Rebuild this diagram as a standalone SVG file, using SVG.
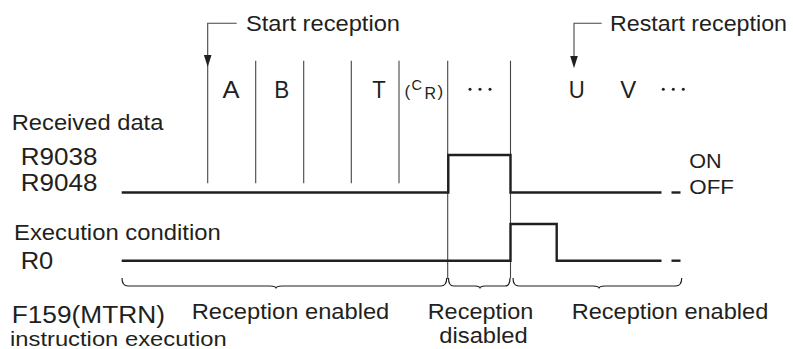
<svg xmlns="http://www.w3.org/2000/svg" width="793" height="349" viewBox="0 0 793 349">
<style>
text{font-family:"Liberation Sans",Arial,sans-serif;fill:#231f20}
.t21{font-size:22px}
.t23{font-size:24px}
.t20{font-size:20.5px}
.thin{stroke:#454545;stroke-width:1.1;fill:none}
.sig{stroke:#231f20;stroke-width:2.4;fill:none}
.brace{stroke:#231f20;stroke-width:1.2;fill:none}
.ah{fill:#231f20}
</style>
<rect width="793" height="349" fill="#fff"/>
<g id="labels">
<text class="t21" x="11.7" y="129.8" textLength="151.7" lengthAdjust="spacingAndGlyphs">Received data</text>
<text class="t23" x="20.7" y="165" textLength="76.7" lengthAdjust="spacingAndGlyphs">R9038</text>
<text class="t23" x="20.7" y="191.3" textLength="76.7" lengthAdjust="spacingAndGlyphs">R9048</text>
<text class="t21" x="14" y="240.3" textLength="206.7" lengthAdjust="spacingAndGlyphs">Execution condition</text>
<text class="t23" x="20.7" y="268.5" textLength="32.6" lengthAdjust="spacingAndGlyphs">R0</text>
<text style="font-size:23px" x="11.7" y="322.5" textLength="153.3" lengthAdjust="spacingAndGlyphs">F159(MTRN)</text>
<text style="font-size:21px" x="10" y="345.5" textLength="216.7" lengthAdjust="spacingAndGlyphs">instruction execution</text>
<text class="t20" x="689.3" y="167.7" textLength="32.4" lengthAdjust="spacingAndGlyphs">ON</text>
<text class="t20" x="689.3" y="193.5" textLength="44.7" lengthAdjust="spacingAndGlyphs">OFF</text>
</g>
<g id="start-reception">
<text class="t21" x="246" y="31.3" textLength="154" lengthAdjust="spacingAndGlyphs">Start reception</text>
</g>
<g id="restart-reception">
<text class="t21" x="610" y="31" textLength="177" lengthAdjust="spacingAndGlyphs">Restart reception</text>
</g>
<g id="data-letters">
<text class="t23" x="231" y="98.3" text-anchor="middle" textLength="17" lengthAdjust="spacingAndGlyphs">A</text>
<text class="t23" x="281.8" y="98.3" text-anchor="middle" textLength="15" lengthAdjust="spacingAndGlyphs">B</text>
<text class="t23" x="379" y="98.3" text-anchor="middle" textLength="13.5" lengthAdjust="spacingAndGlyphs">T</text>
<text style="font-size:17px" x="404.5" y="97">(</text>
<text style="font-size:14.5px" x="411.5" y="90">C</text>
<text style="font-size:16px" x="424.5" y="98.8">R</text>
<text style="font-size:17px" x="437.5" y="97">)</text>
<text class="t23" x="576.7" y="98.3" text-anchor="middle" textLength="16" lengthAdjust="spacingAndGlyphs">U</text>
<text class="t23" x="628.3" y="98.3" text-anchor="middle" textLength="16" lengthAdjust="spacingAndGlyphs">V</text>
<circle cx="470" cy="89.3" r="1.5" class="ah"/>
<circle cx="480" cy="89.3" r="1.5" class="ah"/>
<circle cx="490" cy="89.3" r="1.5" class="ah"/>
<circle cx="663.3" cy="89.3" r="1.5" class="ah"/>
<circle cx="673.3" cy="89.3" r="1.5" class="ah"/>
<circle cx="683.3" cy="89.3" r="1.5" class="ah"/>
</g>
<g id="period-labels">
<text class="t21" x="191.7" y="319" textLength="197.6" lengthAdjust="spacingAndGlyphs">Reception enabled</text>
<text class="t21" x="427.7" y="319" textLength="105.6" lengthAdjust="spacingAndGlyphs">Reception</text>
<text class="t21" x="439.3" y="343.3" textLength="88.4" lengthAdjust="spacingAndGlyphs">disabled</text>
<text class="t21" x="571.7" y="319" textLength="196.6" lengthAdjust="spacingAndGlyphs">Reception enabled</text>
</g>
<g id="connectors">
<path class="thin" d="M236.7,23.3 H207.7 V183.3"/>
<path class="ah" d="M203.9,55 L211.5,55 L207.7,67 Z"/>
<path class="thin" d="M601.7,23.3 H574 V60"/>
<path class="ah" d="M570.2,56 L577.8,56 L574,68.3 Z"/>
<path class="thin" d="M255.7,60.7 V183.3 M303.7,60.7 V183.3 M351.3,60.7 V183.3 M399,60.7 V183.3 M447.7,60.7 V279 M510.5,60.7 V278"/>
</g>
<g id="signal-r9038">
<path class="sig" d="M121.7,192.5 H448.3 V155 H510.5 V192.5 H661.5"/>
<path class="sig" d="M671.5,192.5 H680.5"/>
</g>
<g id="signal-r0">
<path class="sig" d="M121.7,260.7 H510.5 V224 H556.7 V260.7 H661.5"/>
<path class="sig" d="M671.5,260.7 H680.5"/>
</g>
<g id="braces">
<path class="brace" d="M122,278 q0,8 6,8 H270 q6,0 6,2.5 q0,-2.5 6,-2.5 H440.7 q6,0 6,-8"/>
<path class="brace" d="M448.5,278 q0,8 5,8 H475 q5,0 5,2.5 q0,-2.5 5,-2.5 H505 q5,0 5,-8"/>
<path class="brace" d="M513,278 q0,8 6,8 H593 q6,0 6,2.5 q0,-2.5 6,-2.5 H675.7 q6,0 6,-8"/>
</g>
</svg>
